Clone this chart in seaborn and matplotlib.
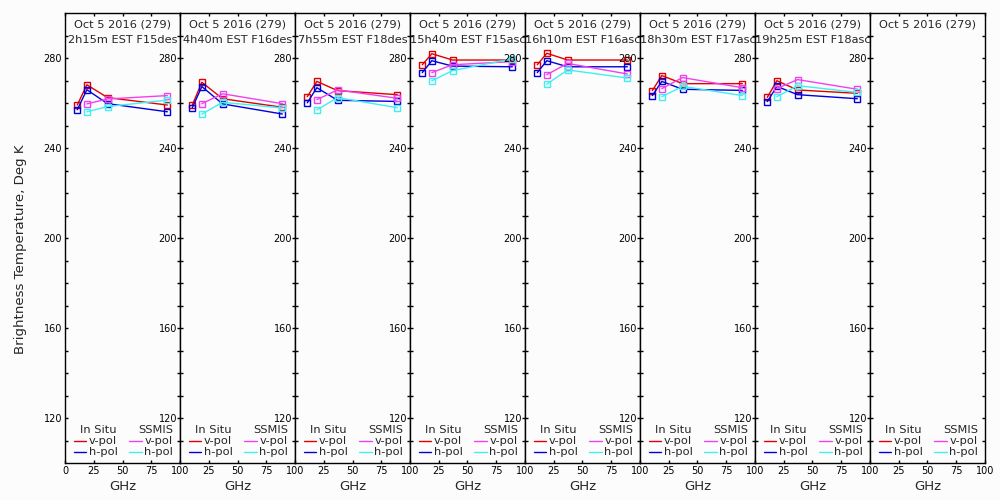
import matplotlib
matplotlib.use("Agg")
import matplotlib.pyplot as plt
import seaborn as sns
import numpy as np

# ---------------- data ----------------
insitu_freq = [10.7, 19.0, 37.0, 89.0]
ssmis_freq = [19.0, 37.0, 89.0]

date_label = "Oct 5 2016 (279)"
pass_labels = ["2h15m EST F15des", "4h40m EST F16des", "7h55m EST F18des",
               "15h40m EST F15asc", "16h10m EST F16asc", "18h30m EST F17asc",
               "19h25m EST F18asc", ""]

insitu_v = [[259.1, 268.1, 262.4, 259.1],
            [259.1, 269.2, 261.9, 258.1],
            [262.8, 269.6, 265.5, 263.7],
            [277.0, 281.9, 279.1, 279.1],
            [277.0, 282.1, 279.1, 279.1],
            [265.5, 272.2, 268.6, 268.6],
            [262.5, 269.9, 265.8, 264.3],
            None]
insitu_h = [[257.0, 265.9, 259.7, 256.1],
            [257.9, 267.3, 259.6, 255.1],
            [260.1, 266.8, 261.2, 260.7],
            [273.5, 278.8, 276.4, 276.1],
            [273.5, 278.8, 276.1, 276.1],
            [263.3, 269.6, 266.1, 265.6],
            [260.6, 267.4, 263.7, 261.9],
            None]
ssmis_v = [[259.6, 261.8, 263.3],
           [259.7, 264.1, 259.7],
           [261.5, 265.8, 262.1],
           [273.5, 277.0, 278.4],
           [272.6, 277.6, 272.9],
           [266.4, 271.3, 266.8],
           [266.4, 270.4, 266.1],
           None]
ssmis_h = [[256.1, 258.4, 261.3],
           [255.1, 260.3, 257.8],
           [256.9, 262.4, 257.9],
           [269.9, 274.4, 279.6],
           [268.4, 274.7, 271.1],
           [262.8, 267.4, 263.3],
           [262.8, 267.7, 264.7],
           None]

x_ticks = [0, 25, 50, 75, 100]
y_major = [120, 160, 200, 240, 280]
y_minor = list(range(110, 300, 10))

c_iv, c_ih, c_sv, c_sh = "#e00000", "#0000dc", "#f040f0", "#40f0f0"

# ---------------- plot ----------------
sns.set_style("ticks")
plt.rcParams["font.family"] = ["DejaVu Sans"]
fs_tick = 7.0
fs_txt = 8.2

fig = plt.figure(figsize=(10, 5), dpi=100, facecolor="#fcfcfc")
n = 8
left, right = 0.065, 0.985
bottom, top = 0.074, 0.974
w = (right - left) / n
axes = []
for i in range(n):
    ax = fig.add_axes([left + i * w, bottom, w, top - bottom])
    ax.set_facecolor("#fcfcfc")
    axes.append(ax)

def draw(ax, xs, ys, color):
    sns.lineplot(x=xs, y=ys, ax=ax, color=color, linewidth=1, marker="s",
                 markersize=4, markerfacecolor="none", markeredgecolor=color,
                 markeredgewidth=1, sort=False, legend=False)

for i, ax in enumerate(axes):
    if insitu_v[i] is not None:
        draw(ax, insitu_freq, insitu_v[i], c_iv)
        draw(ax, insitu_freq, insitu_h[i], c_ih)
        draw(ax, ssmis_freq, ssmis_v[i], c_sv)
        draw(ax, ssmis_freq, ssmis_h[i], c_sh)
    ax.set_xlim(0, 100)
    ax.set_ylim(100, 300)
    ax.set_xticks(x_ticks)
    ax.set_xticklabels([str(t) if (t != 0 or i == 0) else "" for t in x_ticks], fontsize=fs_tick)
    ax.set_yticks(y_major)
    ax.set_yticklabels([str(t) for t in y_major], fontsize=fs_tick)
    ax.set_yticks(y_minor, minor=True)
    ax.tick_params(axis="both", which="both", direction="in", top=True, right=True,
                   length=2.5, width=1, pad=2, colors="black")
    for s in ax.spines.values():
        s.set_visible(True)
        s.set_linewidth(1)
        s.set_color("black")
    ax.set_xlabel("GHz", fontsize=9.5, labelpad=3)
    ax.set_ylabel("")
    # titles
    ax.text(0.5, 0.975, date_label, transform=ax.transAxes, ha="center", va="center",
            fontsize=fs_txt)
    if pass_labels[i]:
        ax.text(0.5, 0.94, pass_labels[i], transform=ax.transAxes, ha="center",
                va="center", fontsize=fs_txt)
    # legend
    ax.text(0.13, 0.073, "In Situ", transform=ax.transAxes, ha="left", va="center", fontsize=fs_txt)
    ax.text(0.635, 0.073, "SSMIS", transform=ax.transAxes, ha="left", va="center", fontsize=fs_txt)
    for (x0, yy, col, lab) in [(0.075, 0.049, c_iv, "v-pol"), (0.075, 0.024, c_ih, "h-pol"),
                               (0.56, 0.049, c_sv, "v-pol"), (0.56, 0.024, c_sh, "h-pol")]:
        ax.plot([x0, x0 + 0.11], [yy, yy], transform=ax.transAxes, color=col, lw=1)
        ax.text(x0 + 0.13, yy, lab, transform=ax.transAxes, ha="left", va="center", fontsize=fs_txt)

axes[0].set_ylabel("Brightness Temperature, Deg K", fontsize=9.6)
axes[0].yaxis.set_label_coords(-0.33, 0.476)

fig.savefig("out.png", dpi=100, facecolor=fig.get_facecolor())
